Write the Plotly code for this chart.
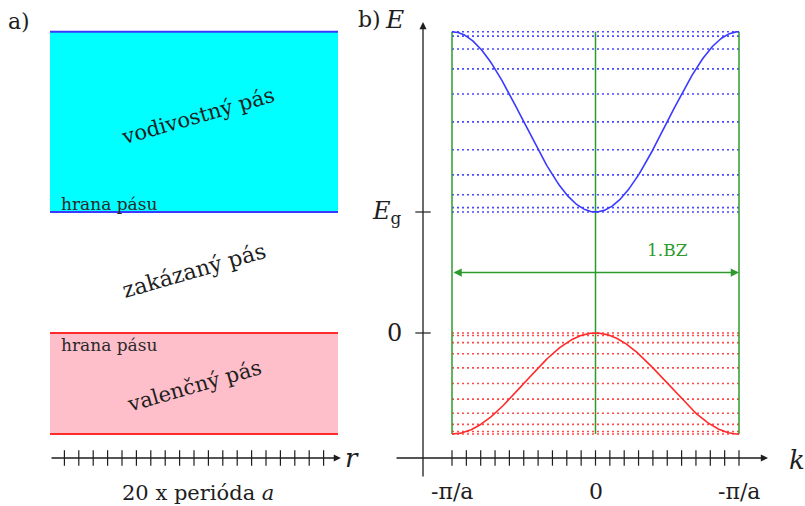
import numpy as np
import plotly.graph_objects as go

# ---- band model (energies in units of the gap E_g, k in units of pi/a) ----
E_GAP = 1.0            # bottom of the conduction band
W_COND = 1.49          # conduction band width
W_VAL = 0.835          # valence band width
N_PERIODS = 20         # lattice periods shown in real space
N_K = 10               # allowed k states per half zone
ZONE_EDGE = 1.0        # first Brillouin zone edge

k_tick_pos = [-1.0, 0.0, 1.0]
k_tick_labels = ["-π/a", "0", "-π/a"]
E_tick_pos = [E_GAP, 0.0]
E_tick_labels = ["<i>E</i><sub>g</sub>", "0"]
band_names = ["vodivostný pás", "zakázaný pás", "valenčný pás"]
edge_label = "hrana pásu"
zone_label = "1.BZ"

# ---- colours ----
CYAN = "#00ffff"
PINK = "#ffbfca"
BLUE = "#3a3aff"
RED = "#ff2a2a"
GREEN = "#2e9a2e"
INK = "#1e1e1e"
FONT = "DejaVu Serif"

# ---- canvas geometry ----
W, H = 805, 506
PX_PER_E, E0_PX = 121.0, 333.0        # energy scale
PX_PER_R, R0_PX = 14.4, 50.0          # real-space scale (one period a)
PX_PER_K, K0_PX = 143.5, 595.5        # reciprocal-space scale
SPLIT = 370.0

y_range = [(E0_PX - H) / PX_PER_E, E0_PX / PX_PER_E]
xr_range = [(0 - R0_PX) / PX_PER_R, (SPLIT - R0_PX) / PX_PER_R]
xk_range = [(SPLIT - K0_PX) / PX_PER_K, (W - K0_PX) / PX_PER_K]

E_TOP = E_GAP + W_COND
E_BOT = -W_VAL
E_AXIS = -1.033          # level of the horizontal r and k axes
K_AXIS = -1.202          # position of the vertical E axis


def e_cond(k):
    return E_GAP + W_COND * (1 - np.cos(np.pi * k)) / 2


def e_val(k):
    return -W_VAL * (1 - np.cos(np.pi * k)) / 2


fig = go.Figure()

# ================= a) real space =================
# band rectangles
fig.add_shape(type="rect", xref="x", yref="y", x0=0, x1=N_PERIODS, y0=E_GAP, y1=E_TOP,
              fillcolor=CYAN, line_width=0, layer="below")
fig.add_shape(type="rect", xref="x", yref="y", x0=0, x1=N_PERIODS, y0=E_BOT, y1=0,
              fillcolor=PINK, line_width=0, layer="below")
for e, c in [(E_TOP, BLUE), (E_GAP, BLUE), (0, RED), (E_BOT, RED)]:
    fig.add_trace(go.Scatter(x=[0, N_PERIODS], y=[e, e], mode="lines",
                             line=dict(color=c, width=2), xaxis="x", yaxis="y",
                             hoverinfo="skip", showlegend=False))

# lattice sites on the r axis
r_sites = np.arange(1, N_PERIODS)
fig.add_trace(go.Scatter(x=r_sites, y=[E_AXIS] * len(r_sites), mode="markers",
                         marker=dict(symbol="line-ns", size=11, line=dict(width=1.2, color=INK)),
                         xaxis="x", yaxis="y", hoverinfo="skip", showlegend=False))

# ================= b) reciprocal space =================
# allowed energy levels (dotted)
k_states = np.arange(0, N_K + 1) / N_K
for kn in k_states:
    for e, c in [(e_cond(kn), "#4a4aff"), (e_val(kn), "#ff4a4a")]:
        fig.add_trace(go.Scatter(x=[-ZONE_EDGE, ZONE_EDGE], y=[e, e], mode="lines",
                                 line=dict(color=c, width=1.6, dash="2px,3px"),
                                 xaxis="x2", yaxis="y", hoverinfo="skip", showlegend=False))

# zone boundaries and k = 0
for kz in [-ZONE_EDGE, 0.0, ZONE_EDGE]:
    fig.add_trace(go.Scatter(x=[kz, kz], y=[E_BOT, E_TOP], mode="lines",
                             line=dict(color=GREEN, width=1.5),
                             xaxis="x2", yaxis="y", hoverinfo="skip", showlegend=False))

# dispersion curves
k = np.linspace(-ZONE_EDGE, ZONE_EDGE, 301)
fig.add_trace(go.Scatter(x=k, y=e_cond(k), mode="lines", line=dict(color=BLUE, width=1.6),
                         xaxis="x2", yaxis="y", hoverinfo="skip", showlegend=False))
fig.add_trace(go.Scatter(x=k, y=e_val(k), mode="lines", line=dict(color=RED, width=1.6),
                         xaxis="x2", yaxis="y", hoverinfo="skip", showlegend=False))

# k axis ticks (2*N_K + 1 states across the zone)
k_ticks = np.arange(-N_K, N_K + 1) / N_K
fig.add_trace(go.Scatter(x=k_ticks, y=[E_AXIS] * len(k_ticks), mode="markers",
                         marker=dict(symbol="line-ns", size=11, line=dict(width=1.2, color=INK)),
                         xaxis="x2", yaxis="y", hoverinfo="skip", showlegend=False))
# E axis ticks
fig.add_trace(go.Scatter(x=[K_AXIS] * len(E_tick_pos), y=E_tick_pos, mode="markers",
                         marker=dict(symbol="line-ew", size=11, line=dict(width=1.2, color=INK)),
                         xaxis="x2", yaxis="y", hoverinfo="skip", showlegend=False))

ann = []


def arrow(xref, x0, y0, x1, y1, color, width=1.3, side="end", size=1.1):
    ann.append(dict(xref=xref, yref="y", axref=xref, ayref="y", x=x1, y=y1, ax=x0, ay=y0,
                    text="", showarrow=True, arrowhead=2, arrowside=side, arrowsize=size,
                    arrowwidth=width, arrowcolor=color, standoff=0, startstandoff=0))


def label(xref, x, y, text, size, color=INK, angle=0, xanchor="center", yref="y"):
    ann.append(dict(xref=xref, yref=yref, x=x, y=y, text=text, showarrow=False, textangle=angle,
                    xanchor=xanchor, yanchor="middle",
                    font=dict(family=FONT, size=size, color=color)))


# axes with arrows
arrow("x", 0.0, E_AXIS, 20.2, E_AXIS, INK)
arrow("x2", -1.397, E_AXIS, 1.202, E_AXIS, INK)
arrow("x2", K_AXIS, -1.198, K_AXIS, 2.57, INK)
# first Brillouin zone span
arrow("x2", -ZONE_EDGE, E_GAP / 2, ZONE_EDGE, E_GAP / 2, GREEN, width=1.5, side="end+start")

# panel a) texts
label("paper", 19 / W, 1 - 22 / H, "a)", 22, yref="paper")
label("x", 10.3, 1.79, band_names[0], 21, angle=-16)
label("x", 10.0, 0.52, band_names[1], 22, angle=-16)
label("x", 10.0, -0.44, band_names[2], 21, angle=-16)
label("x", 0.6, 1.07, edge_label, 17, color="#2a2a2a", xanchor="left")
label("x", 0.6, -0.10, edge_label, 17, color="#2a2a2a", xanchor="left")
label("x", 10.25, -1.32, f"{N_PERIODS} x perióda <i>a</i>", 21)
label("x", 21.0, E_AXIS, "<i>r</i>", 26)

# panel b) texts
label("paper", 369 / W, 1 - 20 / H, "b)", 22, yref="paper")
label("x2", -1.404, 2.59, "<i>E</i>", 25)
for pos, txt in zip(E_tick_pos, E_tick_labels):
    label("x2", -1.335, pos, txt, 24, xanchor="right")
for pos, txt in zip(k_tick_pos, k_tick_labels):
    label("x2", pos, -1.306, txt, 22)
label("x2", 1.404, -1.05, "<i>k</i>", 26)
label("x2", 0.5, 0.686, zone_label, 17, color=GREEN)

hidden = dict(visible=False, showgrid=False, zeroline=False, fixedrange=True)
fig.update_layout(
    width=W, height=H, autosize=False,
    margin=dict(l=0, r=0, t=0, b=0),
    paper_bgcolor="white", plot_bgcolor="white",
    showlegend=False,
    font=dict(family=FONT),
    xaxis=dict(domain=[0, SPLIT / W], range=xr_range, anchor="y", **hidden),
    xaxis2=dict(domain=[SPLIT / W, 1], range=xk_range, anchor="y", **hidden),
    yaxis=dict(domain=[0, 1], range=y_range, anchor="x", **hidden),
    annotations=ann,
)

fig.write_html("out.html")
